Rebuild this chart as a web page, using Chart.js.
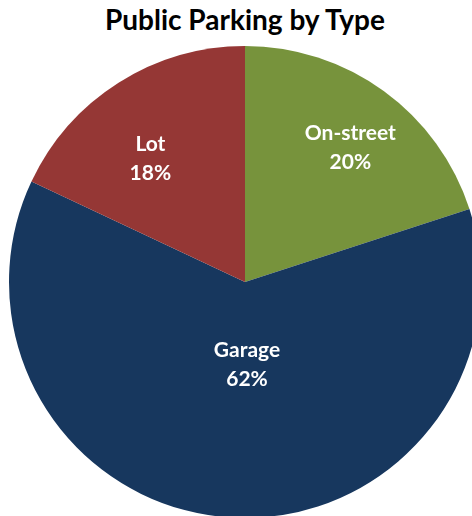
<!DOCTYPE html>
<html>
<head>
<meta charset="utf-8">
<script src="https://cdn.jsdelivr.net/npm/chart.js@4"></script>
<style>
  html, body { margin: 0; padding: 0; width: 472px; height: 516px; overflow: hidden; background: #fff; }
  #title {
    position: absolute; left: 0; width: 490px; top: 2px; margin: 0;
    text-align: center; font: bold 28px Lato, sans-serif; color: #000;
  }
  #wrap { position: absolute; left: 5px; top: 42px; width: 480px; height: 480px; }
</style>
</head>
<body>
<h1 id="title">Public Parking by Type</h1>
<div id="wrap"><canvas id="pieChart" width="480" height="480"></canvas></div>
<script>
const categories = ["On-street", "Garage", "Lot"];
const shares = [20, 62, 18];
const colors = ['#77933C', '#17375E', '#953735'];

// where each label sits: fraction of radius, angle nudge in degrees
const labelPlace = [[0.725, 2], [0.35, -5], [0.66, -5]];

const sliceLabels = {
    id: 'sliceLabels',
    afterDatasetsDraw(chart) {
        const ctx = chart.ctx;
        const meta = chart.getDatasetMeta(0);
        ctx.save();
        ctx.fillStyle = '#fff';
        ctx.font = 'bold 21px Lato, sans-serif';
        ctx.textAlign = 'center';
        ctx.textBaseline = 'middle';
        meta.data.forEach((arc, i) => {
            const p = arc.getProps(['x', 'y', 'startAngle', 'endAngle', 'outerRadius'], true);
            const mid = (p.startAngle + p.endAngle) / 2 + labelPlace[i][1] * Math.PI / 180;
            const r = p.outerRadius * labelPlace[i][0];
            const x = p.x + Math.cos(mid) * r;
            const y = p.y + Math.sin(mid) * r;
            ctx.fillText(categories[i], x, y - 14);
            ctx.fillText(shares[i] + '%', x, y + 15);
        });
        ctx.restore();
    }
};

const pieChart = new Chart(document.getElementById('pieChart').getContext('2d'), {
    type: 'pie',
    data: {
        labels: categories,
        datasets: [{
            data: shares,
            backgroundColor: colors,
            borderWidth: 0
        }]
    },
    options: {
        responsive: false,
        animation: false,
        layout: { padding: 4 },
        plugins: {
            legend: { display: false },
            tooltip: { enabled: false }
        }
    },
    plugins: [sliceLabels]
});
</script>
</body>
</html>
